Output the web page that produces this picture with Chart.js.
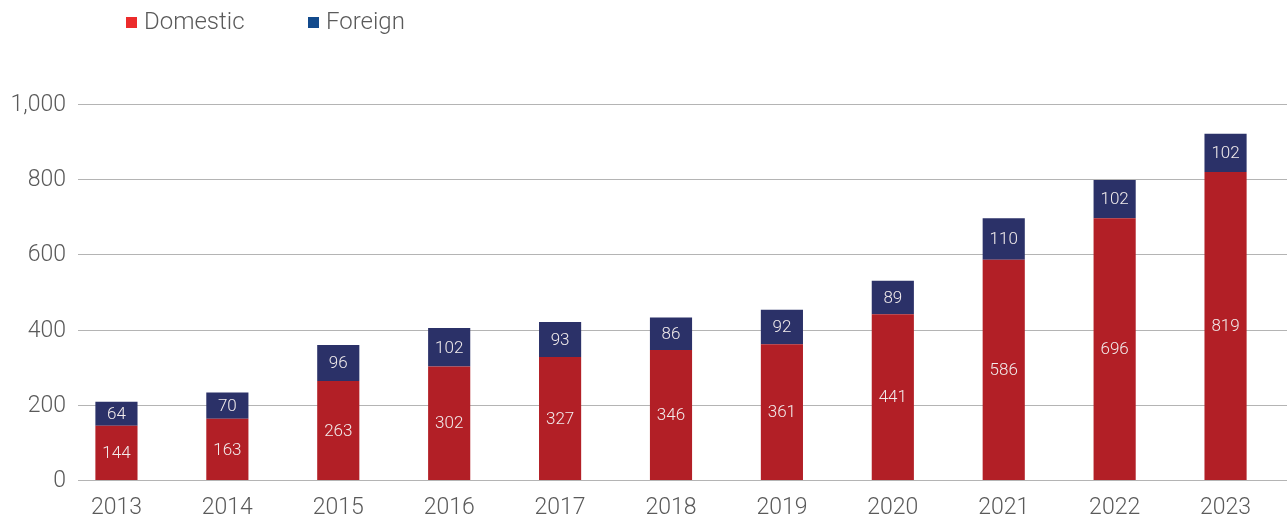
<!DOCTYPE html>
<html>
<head>
<meta charset="utf-8">
<script src="https://cdn.jsdelivr.net/npm/chart.js@4/dist/chart.umd.min.js"></script>
<style>
  html, body { margin: 0; padding: 0; background: #fff; }
  #wrap { width: 1287px; height: 518px; }
</style>
</head>
<body>
<div id="wrap"><canvas id="myChart" width="1287" height="518"></canvas></div>
<script>
// data
const years = ["2013", "2014", "2015", "2016", "2017", "2018", "2019", "2020", "2021", "2022", "2023"];
const domestic = [144, 163, 263, 302, 327, 346, 361, 441, 586, 696, 819];
const foreign = [64, 70, 96, 102, 93, 86, 92, 89, 110, 102, 102];
const yTicks = [0, 200, 400, 600, 800, 1000];

const FONT = "Roboto, 'Noto Sans', sans-serif";

// grid lines from x=78 to the right edge, and the y tick labels beside them
const gridPlugin = {
  id: "grid",
  beforeDatasetsDraw(chart) {
    const ctx = chart.ctx;
    const y = chart.scales.y;
    ctx.save();
    ctx.strokeStyle = "#b4b4b4";
    ctx.lineWidth = 1.2;
    ctx.fillStyle = "#5a5a5a";
    ctx.font = "300 23px " + FONT;
    ctx.textAlign = "right";
    ctx.textBaseline = "middle";
    yTicks.forEach(v => {
      const py = Math.round(y.getPixelForValue(v)) + 0.5;
      ctx.beginPath();
      ctx.moveTo(78, py);
      ctx.lineTo(chart.width, py);
      ctx.stroke();
      ctx.fillText(v.toLocaleString("en-US"), 66, py + 1);
    });
    ctx.restore();
  }
};

// numbers inside the bars
const labelPlugin = {
  id: "barLabels",
  afterDatasetsDraw(chart) {
    const ctx = chart.ctx;
    ctx.save();
    ctx.font = "300 17px " + FONT;
    ctx.fillStyle = "#f2ecec";
    ctx.textAlign = "center";
    ctx.textBaseline = "middle";
    chart.data.datasets.forEach((ds, i) => {
      chart.getDatasetMeta(i).data.forEach((bar, j) => {
        const p = bar.getProps(["x", "y", "base"], true);
        ctx.fillText(String(ds.data[j]), p.x, (p.y + p.base) / 2 + 1);
      });
    });
    ctx.restore();
  }
};

// legend at the top left
const legendPlugin = {
  id: "topLegend",
  afterDraw(chart) {
    const ctx = chart.ctx;
    const items = [
      { text: "Domestic", color: "#ec2b2b", x: 126 },
      { text: "Foreign", color: "#124a8c", x: 308 }
    ];
    ctx.save();
    ctx.font = "300 24px " + FONT;
    ctx.textBaseline = "middle";
    ctx.textAlign = "left";
    items.forEach(it => {
      ctx.fillStyle = it.color;
      ctx.fillRect(it.x, 17, 11, 11);
      ctx.fillStyle = "#5a5a5a";
      ctx.fillText(it.text, it.x + 18, 23);
    });
    ctx.restore();
  }
};

let config = {
  type: "bar",
  data: {
    labels: years,
    datasets: [
      { label: "Domestic", data: domestic, backgroundColor: "#b21f26" },
      { label: "Foreign", data: foreign, backgroundColor: "#2b3168" }
    ]
  },
  options: {
    responsive: false,
    animation: false,
    layout: { padding: { top: 104, right: 6, bottom: 0, left: 0 } },
    datasets: { bar: { barPercentage: 1, categoryPercentage: 0.38 } },
    plugins: {
      legend: { display: false },
      tooltip: { enabled: false }
    },
    scales: {
      x: {
        stacked: true,
        grid: { display: false },
        border: { display: false },
        afterFit(scale) { scale.height = 38; },
        ticks: { color: "#5a5a5a", font: { family: FONT, size: 23, weight: 300 }, padding: 6 }
      },
      y: {
        stacked: true,
        min: 0,
        max: 1000,
        grid: { display: false },
        border: { display: false },
        afterFit(scale) { scale.width = 61; },
        ticks: { display: false, stepSize: 200 }
      }
    }
  },
  plugins: [gridPlugin, labelPlugin, legendPlugin]
};

window.addEventListener("load", function() {
  let ctx = document.getElementById("myChart").getContext("2d");
  myChart = new Chart(ctx, config);
}, false);
</script>
</body>
</html>
